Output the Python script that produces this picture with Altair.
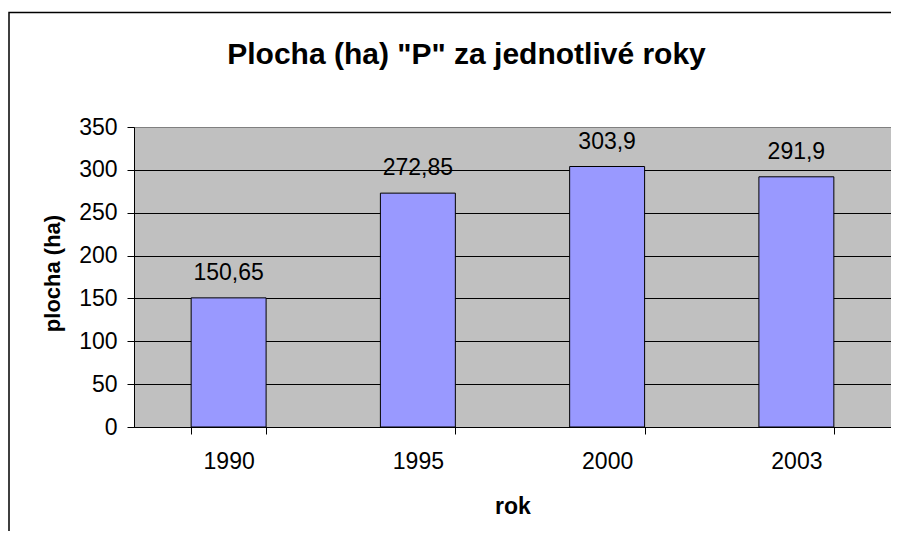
import altair as alt
import pandas as pd

years = ["1990", "1995", "2000", "2003"]
values = [150.65, 272.85, 303.9, 291.9]
labels = ["150,65", "272,85", "303,9", "291,9"]
y_ticks = [0, 50, 100, 150, 200, 250, 300, 350]
chart_title = 'Plocha (ha) "P" za jednotlivé roky'
x_title = "rok"
y_title = "plocha (ha)"

FONT = "Liberation Sans"
W, H = 757, 300
LEFT = 126

df = pd.DataFrame({"rok": years, "plocha": values, "label": labels})

x_enc = alt.X(
    "rok:N",
    sort=years,
    scale=alt.Scale(paddingInner=0.604, paddingOuter=0.302),
    axis=alt.Axis(
        title=x_title,
        labelAngle=0,
        labelFont=FONT,
        labelFontSize=23,
        labelColor="black",
        labelPadding=16,
        tickBand="extent",
        tickSize=7,
        tickColor="black",
        domainColor="black",
        grid=False,
        titleFont=FONT,
        titleFontSize=23,
        titleFontWeight="bold",
        titleColor="black",
        titleBaseline="alphabetic",
        titleX=W / 2,
        titleY=86,
    ),
)

y_enc = alt.Y(
    "plocha:Q",
    scale=alt.Scale(domain=[0, 350], nice=False),
    axis=alt.Axis(
        title=y_title,
        values=y_ticks,
        labelFont=FONT,
        labelFontSize=23,
        labelColor="black",
        labelPadding=10,
        tickSize=7,
        tickColor="black",
        domainColor="black",
        grid=True,
        gridColor=alt.condition(alt.datum.value == 350, alt.value("#808080"), alt.value("black")),
        gridWidth=1,
        titleFont=FONT,
        titleFontSize=22,
        titleFontWeight="bold",
        titleColor="black",
        titleAngle=-90,
        titleBaseline="alphabetic",
        titleX=-75,
        titleY=146,
    ),
)

base = alt.Chart(df)

bars = base.mark_bar(color="#9999FF", stroke="black", strokeWidth=1).encode(x=x_enc, y=y_enc)

texts = base.mark_text(
    font=FONT, fontSize=23, color="black", baseline="alphabetic", dy=-18
).encode(x=alt.X("rok:N", sort=years), y="plocha:Q", text="label:N")

frame_df = pd.DataFrame({"f": [1]})
frame = alt.Chart(frame_df).mark_rect(
    fill="white", fillOpacity=0, stroke="black", strokeWidth=1.5
).encode(
    x=alt.value(-125), x2=alt.value(900), y=alt.value(-114.5), y2=alt.value(600)
)

title_df = pd.DataFrame({"t": [chart_title]})
title = alt.Chart(title_df).mark_text(
    font=FONT, fontSize=30, fontWeight="bold", color="black", baseline="alphabetic", align="center"
).encode(x=alt.value(332.5), y=alt.value(-63.5), text="t:N")

chart = alt.layer(bars, texts, frame, title).properties(
    width=W,
    height=H,
    autosize=alt.AutoSizeParams(type="none"),
    padding={"left": LEFT, "top": 119, "right": 0, "bottom": 104},
    background="white",
).configure_view(
    fill="#C0C0C0", stroke="#808080", strokeWidth=1
)

chart.save("out.html", embed_options={"renderer": "svg", "actions": False})
